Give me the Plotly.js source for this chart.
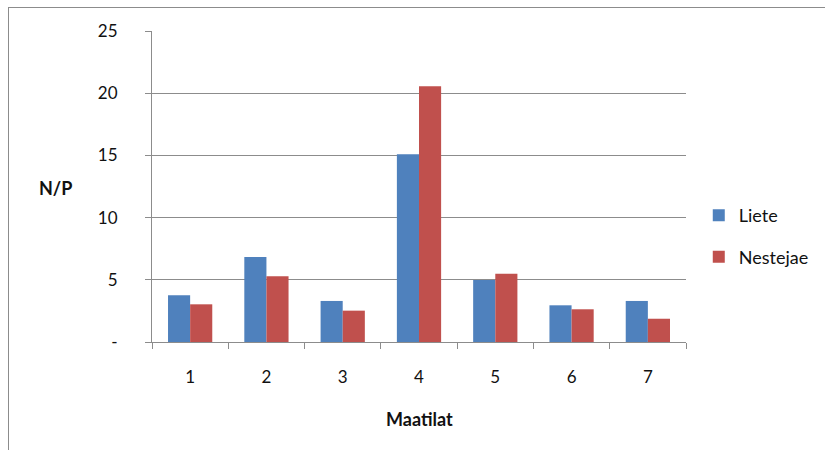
<!DOCTYPE html>
<html>
<head>
<meta charset="utf-8">
<script src="https://cdn.plot.ly/plotly-3.0.1.min.js"></script>
<style>
  body { margin: 0; background: #fff; }
  #wrap { position: relative; width: 825px; height: 450px; overflow: hidden; }
  #chart { width: 825px; height: 450px; }
  #frame {
    position: absolute; left: 8px; top: 7px; width: 840px; height: 470px;
    border-left: 1px solid #8c8c8c; border-top: 1px solid #8c8c8c;
    pointer-events: none;
  }
</style>
</head>
<body>
<div id="wrap">
  <div id="chart"></div>
  <div id="frame"></div>
</div>
<script>
// N/P ratio per farm, for slurry (Liete) and liquid fraction (Nestejae)
const farms = ['1', '2', '3', '4', '5', '6', '7'];
const liete = [3.75, 6.83, 3.3, 15.1, 4.98, 2.95, 3.3];
const nestejae = [3.03, 5.28, 2.52, 20.55, 5.49, 2.63, 1.87];
const yTickVals = [0, 5, 10, 15, 20, 25];
const yTickText = ['-', '5', '10', '15', '20', '25'];

const FONT = 'Lato, "Open Sans", "DejaVu Sans", sans-serif';
const AXIS_GREY = '#8c8c8c';
const TEXT = '#111111';

const traces = [
  {
    type: 'bar', name: 'Liete', x: farms, y: liete,
    marker: { color: '#4F81BD', line: { width: 0 } },
    legendgroup: 'a', hoverinfo: 'x+y'
  },
  {
    type: 'bar', name: 'Nestejae', x: farms, y: nestejae,
    marker: { color: '#C0504D', line: { width: 0 } },
    legendgroup: 'b', hoverinfo: 'x+y'
  }
];

const layout = {
  width: 825, height: 450,
  margin: { l: 152, r: 138, t: 31, b: 108 },
  paper_bgcolor: '#ffffff', plot_bgcolor: '#ffffff',
  font: { family: FONT, size: 17, color: TEXT },
  barmode: 'group', bargap: 0.42, bargroupgap: 0,
  showlegend: true,
  legend: {
    x: 1.022, xanchor: 'left', y: 0.466, yanchor: 'top',
    traceorder: 'grouped', tracegroupgap: 15,
    font: { family: FONT, size: 18, color: TEXT },
    bgcolor: 'rgba(0,0,0,0)'
  },
  xaxis: {
    type: 'category', tickson: 'boundaries',
    ticks: 'outside', ticklen: 6, tickcolor: AXIS_GREY, tickwidth: 1,
    showline: true, linecolor: AXIS_GREY, linewidth: 1,
    showgrid: false, zeroline: false,
    ticklabelstandoff: 20,
    tickfont: { family: FONT, size: 17, color: TEXT },
    fixedrange: true
  },
  yaxis: {
    range: [0, 25], tickvals: yTickVals, ticktext: yTickText,
    ticks: 'outside', ticklen: 6, tickcolor: AXIS_GREY, tickwidth: 1,
    showline: true, linecolor: AXIS_GREY, linewidth: 1,
    showgrid: true, gridcolor: AXIS_GREY, gridwidth: 1,
    zeroline: false,
    ticklabelstandoff: 24,
    tickfont: { family: FONT, size: 17, color: TEXT },
    fixedrange: true
  },
  annotations: [
    {
      text: '<b>N/P</b>', xref: 'paper', yref: 'paper',
      x: -0.181, y: 0.495, xanchor: 'center', yanchor: 'middle',
      showarrow: false, font: { family: FONT, size: 18, color: TEXT }
    },
    {
      text: '<b>Maatilat</b>', xref: 'paper', yref: 'paper',
      x: 0.501, y: -0.2476, xanchor: 'center', yanchor: 'middle',
      showarrow: false, font: { family: FONT, size: 18, color: TEXT }
    }
  ]
};

Plotly.newPlot('chart', traces, layout, { displayModeBar: false, staticPlot: true });
</script>
</body>
</html>
